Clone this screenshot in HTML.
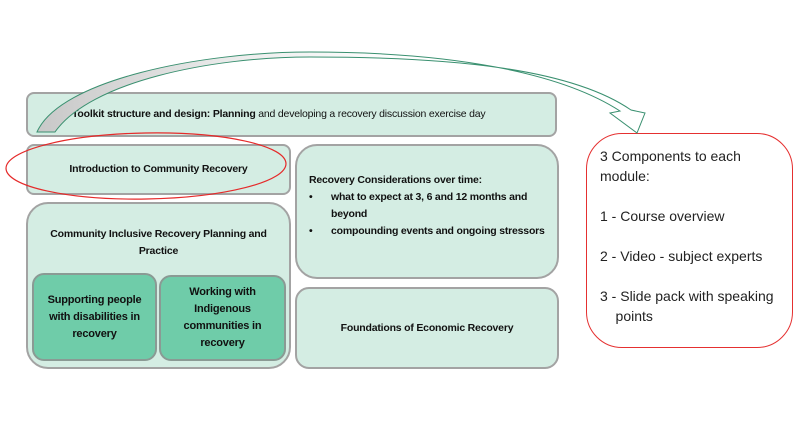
<!DOCTYPE html>
<html><head><meta charset="utf-8"><style>
body{margin:0;width:800px;height:425px;background:#fff;position:relative;overflow:hidden;font-family:"Liberation Sans",sans-serif;}
.b{position:absolute;box-sizing:border-box;background:#d4ede3;border:2px solid #a3a3a3;color:#111;font-weight:bold;font-size:10.5px;letter-spacing:-0.2px;display:flex;align-items:center;justify-content:center;text-align:center;line-height:17px;}
.g{background:#6fcca9;border-color:#8a9a94;font-size:11px;}
</style></head><body>
<div class="b" style="left:26px;top:92px;width:531px;height:45px;border-radius:8px;justify-content:flex-start;padding-left:44px;"><span><b>Toolkit structure and design: Planning</b> <span style="font-weight:normal">and developing a recovery discussion exercise day</span></span></div>
<div class="b" style="left:26px;top:144px;width:265px;height:51px;border-radius:8px;">Introduction to Community Recovery</div>
<div class="b" style="left:295px;top:144px;width:264px;height:135px;border-radius:22px;display:block;text-align:left;padding:26px 0 0 12px;">Recovery Considerations over time:<br>
<div style="display:flex"><span style="width:22px">•</span><span style="width:215px">what to expect at 3, 6 and 12 months and beyond</span></div>
<div style="display:flex"><span style="width:22px">•</span><span style="white-space:nowrap">compounding events and ongoing stressors</span></div></div>
<div class="b" style="left:26px;top:202px;width:265px;height:167px;border-radius:22px;align-items:flex-start;padding-top:22px;">Community Inclusive Recovery Planning and<br>Practice</div>
<div class="b g" style="left:32px;top:273px;width:125px;height:88px;border-radius:12px;">Supporting people<br>with disabilities in<br>recovery</div>
<div class="b g" style="left:159px;top:275px;width:127px;height:86px;border-radius:12px;">Working with<br>Indigenous<br>communities in<br>recovery</div>
<div class="b" style="left:295px;top:287px;width:264px;height:82px;border-radius:14px;">Foundations of Economic Recovery</div>
<div style="position:absolute;left:586px;top:133px;width:207px;height:215px;box-sizing:border-box;border:1.5px solid #e53030;border-radius:36px;padding:12px 0 0 13px;font-size:14px;color:#222;line-height:20px;">3 Components to each<br>module:<br><br>1 - Course overview<br><br>2 - Video - subject experts<br><br>3 - Slide pack with speaking<br>&nbsp;&nbsp;&nbsp;&nbsp;points</div>
<svg width="800" height="425" style="position:absolute;left:0;top:0">
<defs><linearGradient id="gr" x1="0" y1="0" x2="1" y2="0"><stop offset="0" stop-color="#c8c8c8"/><stop offset="0.35" stop-color="#eee"/><stop offset="0.6" stop-color="#fff"/></linearGradient></defs>
<path d="M37,132 C60,80 200,52 310,52 C450,52 560,72 620,111 L610,113 L637,133 L645,113 L631,110 C570,68 450,57 310,57 C210,57 90,82 55,132 Z" fill="url(#gr)" stroke="#3a9070" stroke-width="1"/>
<ellipse cx="146" cy="166" rx="140" ry="33" fill="none" stroke="#e52a2a" stroke-width="1.2" transform="rotate(-1 146 166)"/>
</svg>
</body></html>
